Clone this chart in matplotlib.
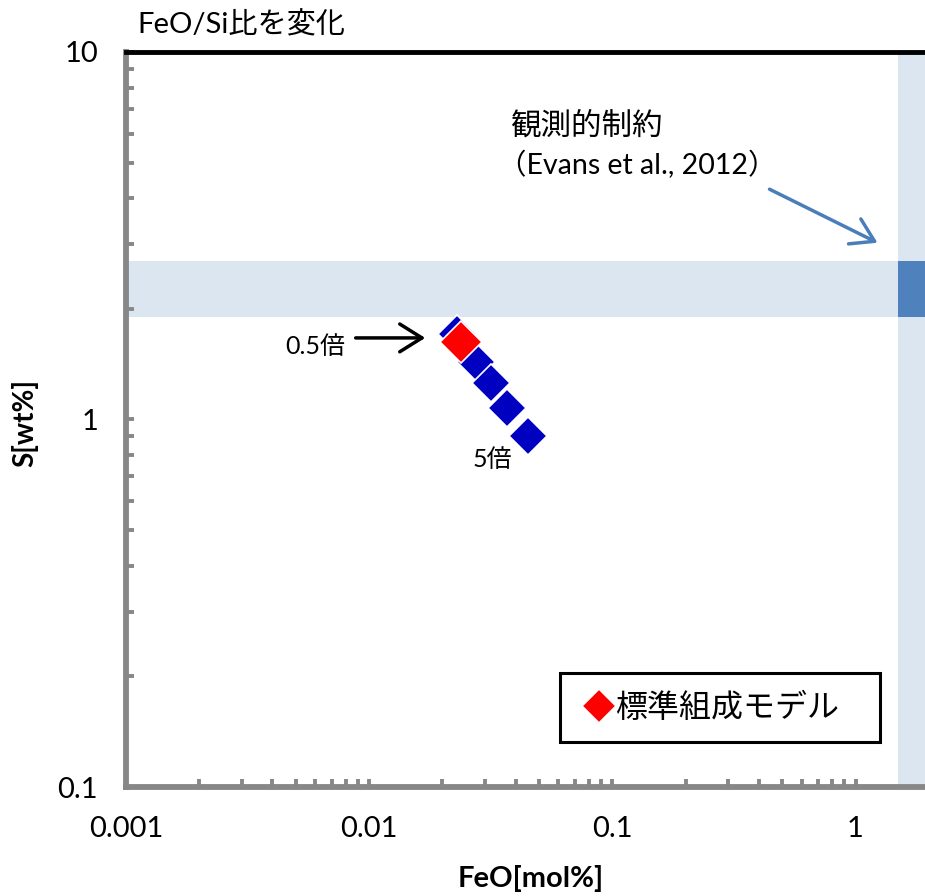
import matplotlib
matplotlib.use("Agg")
import matplotlib.pyplot as plt
from matplotlib.patches import Rectangle
from matplotlib.ticker import LogLocator, FixedLocator, FixedFormatter, NullFormatter

plt.rcParams['font.family'] = ['Lato', 'Noto Sans CJK JP', 'DejaVu Sans']

# FeO/Si ratio scan: 0.5x ... 5x
feo_scan = [0.0229, 0.0276, 0.0316, 0.0370, 0.0448]
s_scan = [1.71, 1.435, 1.258, 1.076, 0.903]

# standard composition model
feo_std = [0.0238]
s_std = [1.63]

# observational constraint (Evans et al., 2012)
s_obs = (1.9, 2.7)
feo_obs_min = 1.5

x_major = [0.001, 0.01, 0.1, 1]
x_major_labels = ['0.001', '0.01', '0.1', '1']
y_major = [0.1, 1, 10]
y_major_labels = ['0.1', '1', '10']

XLIM = (0.001, 1.93)
YLIM = (0.1, 10)

AXIS_GRAY = '#878787'
BAND_LIGHT = '#DCE6F1'
BAND_DARK = '#4F81BD'

fig = plt.figure(figsize=(9.25, 8.96), dpi=100)
ax = fig.add_axes([126 / 925, 1 - 787 / 896, 799 / 925, 735 / 896])
ax.set_xscale('log')
ax.set_yscale('log')
ax.set_xlim(*XLIM)
ax.set_ylim(*YLIM)

# constraint bands and their overlap
ax.axhspan(s_obs[0], s_obs[1], color=BAND_LIGHT, lw=0, zorder=0)
ax.axvspan(feo_obs_min, XLIM[1], color=BAND_LIGHT, lw=0, zorder=0)
ax.fill_between([feo_obs_min, XLIM[1]], s_obs[0], s_obs[1], color=BAND_DARK, lw=0, zorder=0.5)

ax.plot(feo_scan, s_scan, ls='none', marker='D', ms=19.5, mfc='#0000C0',
        mec='white', mew=1.2, zorder=3)
ax.plot(feo_std, s_std, ls='none', marker='D', ms=21, mfc='#FF0000',
        mec='white', mew=1.2, zorder=4, label='標準組成モデル')

# spines
for side in ('left', 'bottom'):
    ax.spines[side].set_color(AXIS_GRAY)
    ax.spines[side].set_linewidth(4.2)
ax.spines['top'].set_color('black')
ax.spines['top'].set_linewidth(3.5)
ax.spines['right'].set_visible(False)

# ticks: every decade step drawn as a short inward nub, labels on decades only
ax.xaxis.set_major_locator(FixedLocator(x_major))
ax.xaxis.set_major_formatter(FixedFormatter(x_major_labels))
ax.yaxis.set_major_locator(FixedLocator(y_major))
ax.yaxis.set_major_formatter(FixedFormatter(y_major_labels))
ax.xaxis.set_minor_locator(LogLocator(base=10, subs=range(2, 10)))
ax.yaxis.set_minor_locator(LogLocator(base=10, subs=range(2, 10)))
ax.xaxis.set_minor_formatter(NullFormatter())
ax.yaxis.set_minor_formatter(NullFormatter())
ax.tick_params(which='both', direction='in', length=6, width=2.8, color=AXIS_GRAY,
               top=False, right=False)
ax.tick_params(axis='y', which='major', labelsize=21, pad=20)
ax.tick_params(axis='x', which='major', labelsize=21, pad=21)

ax.set_xlabel('FeO[mol%]', fontsize=21, fontweight='bold')
ax.set_ylabel('S[wt%]', fontsize=20, fontweight='bold')
ax.xaxis.set_label_coords(0.507, -0.106)
ax.yaxis.set_label_coords(-0.110, 0.495)

fig.text(137 / 925, 1 - 25 / 896, 'FeO/Si比を変化', fontsize=21, ha='left', va='center')

# annotations
ax.text(0.274, 0.599, '0.5倍', transform=ax.transAxes, fontsize=18, ha='right', va='center')
ax.annotate('', xy=(0.378, 0.611), xytext=(0.284, 0.611),
            xycoords='axes fraction', textcoords='axes fraction',
            arrowprops=dict(arrowstyle='->,head_length=0.8,head_width=0.5',
                            mutation_scale=20, color='black', lw=2.5))
ax.text(0.458, 0.445, '5倍', transform=ax.transAxes, fontsize=18, ha='center', va='center')

ax.text(0.4806, 0.9007, '観測的制約', transform=ax.transAxes, fontsize=22,
        ha='left', va='center')
ax.text(0.466, 0.846, '（Evans et al., 2012）', transform=ax.transAxes, fontsize=20.5,
        ha='left', va='center')
ax.annotate('', xy=(0.9437, 0.7388), xytext=(0.8023, 0.815),
            xycoords='axes fraction', textcoords='axes fraction',
            arrowprops=dict(arrowstyle='->,head_length=0.8,head_width=0.5',
                            mutation_scale=20, color='#4A7EBB', lw=2.5))

# legend entry inside a plain black box
ax.add_patch(Rectangle((0.5432, 0.0612), 0.4005, 0.0939, transform=ax.transAxes,
                       facecolor='white', edgecolor='black', lw=2.2, zorder=5))
leg = ax.legend(loc='center left', bbox_to_anchor=(0.576, 0.108), fontsize=23,
                frameon=False, handlelength=0.8, handletextpad=0.1,
                borderpad=0, borderaxespad=0, markerscale=0.82)
leg.set_zorder(6)

fig.savefig('out.png', dpi=100, facecolor='white')
